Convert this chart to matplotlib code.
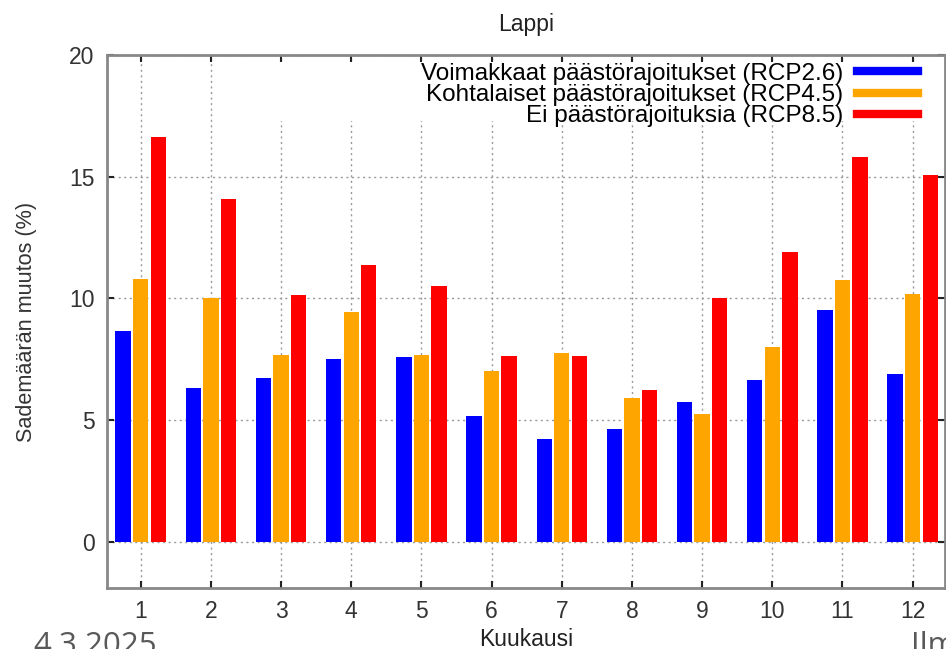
import numpy as np
import matplotlib.pyplot as plt
from matplotlib.lines import Line2D
from matplotlib.patches import Rectangle

plt.rcParams['font.family'] = ['Liberation Sans', 'DejaVu Sans']

months = list(range(1, 13))
rcp26 = [8.65, 6.33, 6.71, 7.51, 7.58, 5.18, 4.21, 4.65, 5.75, 6.66, 9.51, 6.88]
rcp45 = [10.8, 10.03, 7.67, 9.45, 7.67, 7.0, 7.77, 5.91, 5.24, 8.0, 10.74, 10.18]
rcp85 = [16.62, 14.07, 10.14, 11.39, 10.52, 7.62, 7.62, 6.25, 10.02, 11.89, 15.8, 15.08]
labels = ['Voimakkaat päästörajoitukset (RCP2.6)',
          'Kohtalaiset päästörajoitukset (RCP4.5)',
          'Ei päästörajoituksia (RCP8.5)']
colors = ['#0000ff', '#ffa500', '#ff0000']

fig = plt.figure(figsize=(9.46, 6.49), dpi=100)
ax = fig.add_axes([0.1131, 0.094, 0.8858, 0.8213])

x = np.array(months)
w = 0.22
for off, vals, c in zip([-0.25, 0, 0.25], [rcp26, rcp45, rcp85], colors):
    ax.bar(x + off, vals, width=w, color=c, zorder=2)

ax.set_xlim(0.52, 12.46)
ax.set_ylim(-1.9, 20)
ax.set_xticks(months)
ax.set_yticks([0, 5, 10, 15, 20])
ax.set_axisbelow(True)
ax.grid(True, color='#999999', linestyle=(0, (1.5, 2.5)), linewidth=1.0)
ax.tick_params(direction='in', length=5, width=1.5, color='#222222',
               top=True, right=True, labelsize=16.5, labelcolor='#333333', pad=9)
for s in ax.spines.values():
    s.set_color('#888888')
    s.set_linewidth(2)

# white area behind the key hides grid lines
ax.add_patch(Rectangle((0.17, 0.876), 0.83, 0.111, transform=ax.transAxes,
                       facecolor='white', edgecolor='none', zorder=0.8))

handles = [Line2D([], [], color=c, lw=6) for c in colors]
ax.legend(handles, labels, loc='upper right', bbox_to_anchor=(0.968, 0.985),
          frameon=False, markerfirst=False, fontsize=17.5, handlelength=2.5,
          handletextpad=0.6, labelspacing=-0.04, borderpad=0, borderaxespad=0)

ax.set_title('Lappi', fontsize=16.5, color='#222222', pad=17)
ax.set_xlabel('Kuukausi', fontsize=16.5, color='#222222', labelpad=3)
ax.set_ylabel('Sademäärän muutos (%)', fontsize=15.6, color='#333333', labelpad=23)

fig.text(0.035, -0.008, '4.3.2025', fontsize=22.5, color='#595959',
         family=['Open Sans', 'DejaVu Sans'], va='baseline')
fig.text(0.963, -0.008, 'Ilm', fontsize=22.5, color='#595959',
         family=['Open Sans', 'DejaVu Sans'], va='baseline')

fig.savefig('out.png', dpi=100)
